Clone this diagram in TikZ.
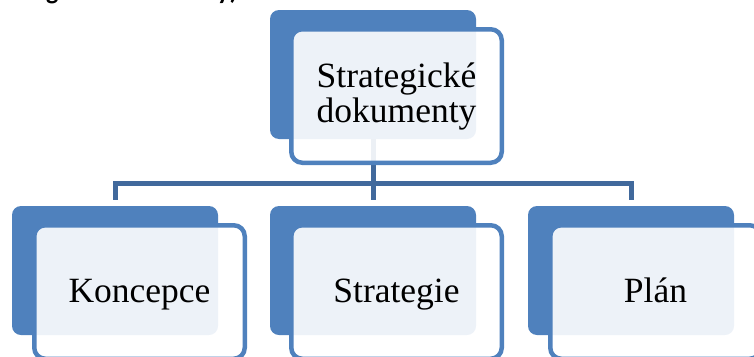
\documentclass[tikz,border=0pt]{standalone}
\usepackage{fontspec}
\setmainfont{Liberation Serif}
\newfontfamily\headfont{Carlito}
\definecolor{boxblue}{HTML}{4F81BD}
\definecolor{connblue}{HTML}{41699C}
\tikzset{
  darkbox/.style={fill=boxblue, rounded corners=9pt, anchor=north west, inner sep=0pt, outer sep=0pt, minimum width=206pt, minimum height=129pt},
  frontbox/.style={draw=boxblue, line width=4.5pt, fill=white, fill opacity=0.9, text opacity=1, rounded corners=11pt, anchor=north west, inner sep=0pt, outer sep=0pt, minimum width=210.5pt, minimum height=133.5pt, align=center, font=\fontsize{35.5}{35}\selectfont},
  childtext/.style={text height=25pt, text depth=4pt},
  conn/.style={draw=connblue, line width=5pt}
}
\begin{document}
\begin{tikzpicture}[x=1pt,y=-1pt]
\useasboundingbox (0,0) rectangle (754,356);
\clip (0,0) rectangle (754,356);
% cut-off heading
\node[anchor=base east, inner sep=0pt, font=\headfont\bfseries\fontsize{26}{30}\selectfont] (head) at (238,-1) {(strategické dokumenty)};
% back boxes
\node[darkbox] (topd) at (270,10) {};
\node[darkbox] (kd) at (12,206) {};
\node[darkbox] (sd) at (270,206) {};
\node[darkbox] (pd) at (528,206) {};
% connectors
\coordinate (bar) at (373,183.5);
\draw[conn] (topd.south) -- (bar);
\draw[conn, shorten >=6pt] (bar) -| (kd.north);
\draw[conn, shorten >=6pt] (bar) -- (sd.north);
\draw[conn, shorten >=6pt] (bar) -| (pd.north);
% front boxes
\node[frontbox] (topf) at (291.25,29.25) {Strategické\\dokumenty};
\node[frontbox, childtext] (kf) at (34.25,225.25) {Koncepce};
\node[frontbox, childtext] (sf) at (291.25,225.25) {Strategie};
\node[frontbox, childtext] (pf) at (550.25,225.25) {Plán};
\end{tikzpicture}
\end{document}
